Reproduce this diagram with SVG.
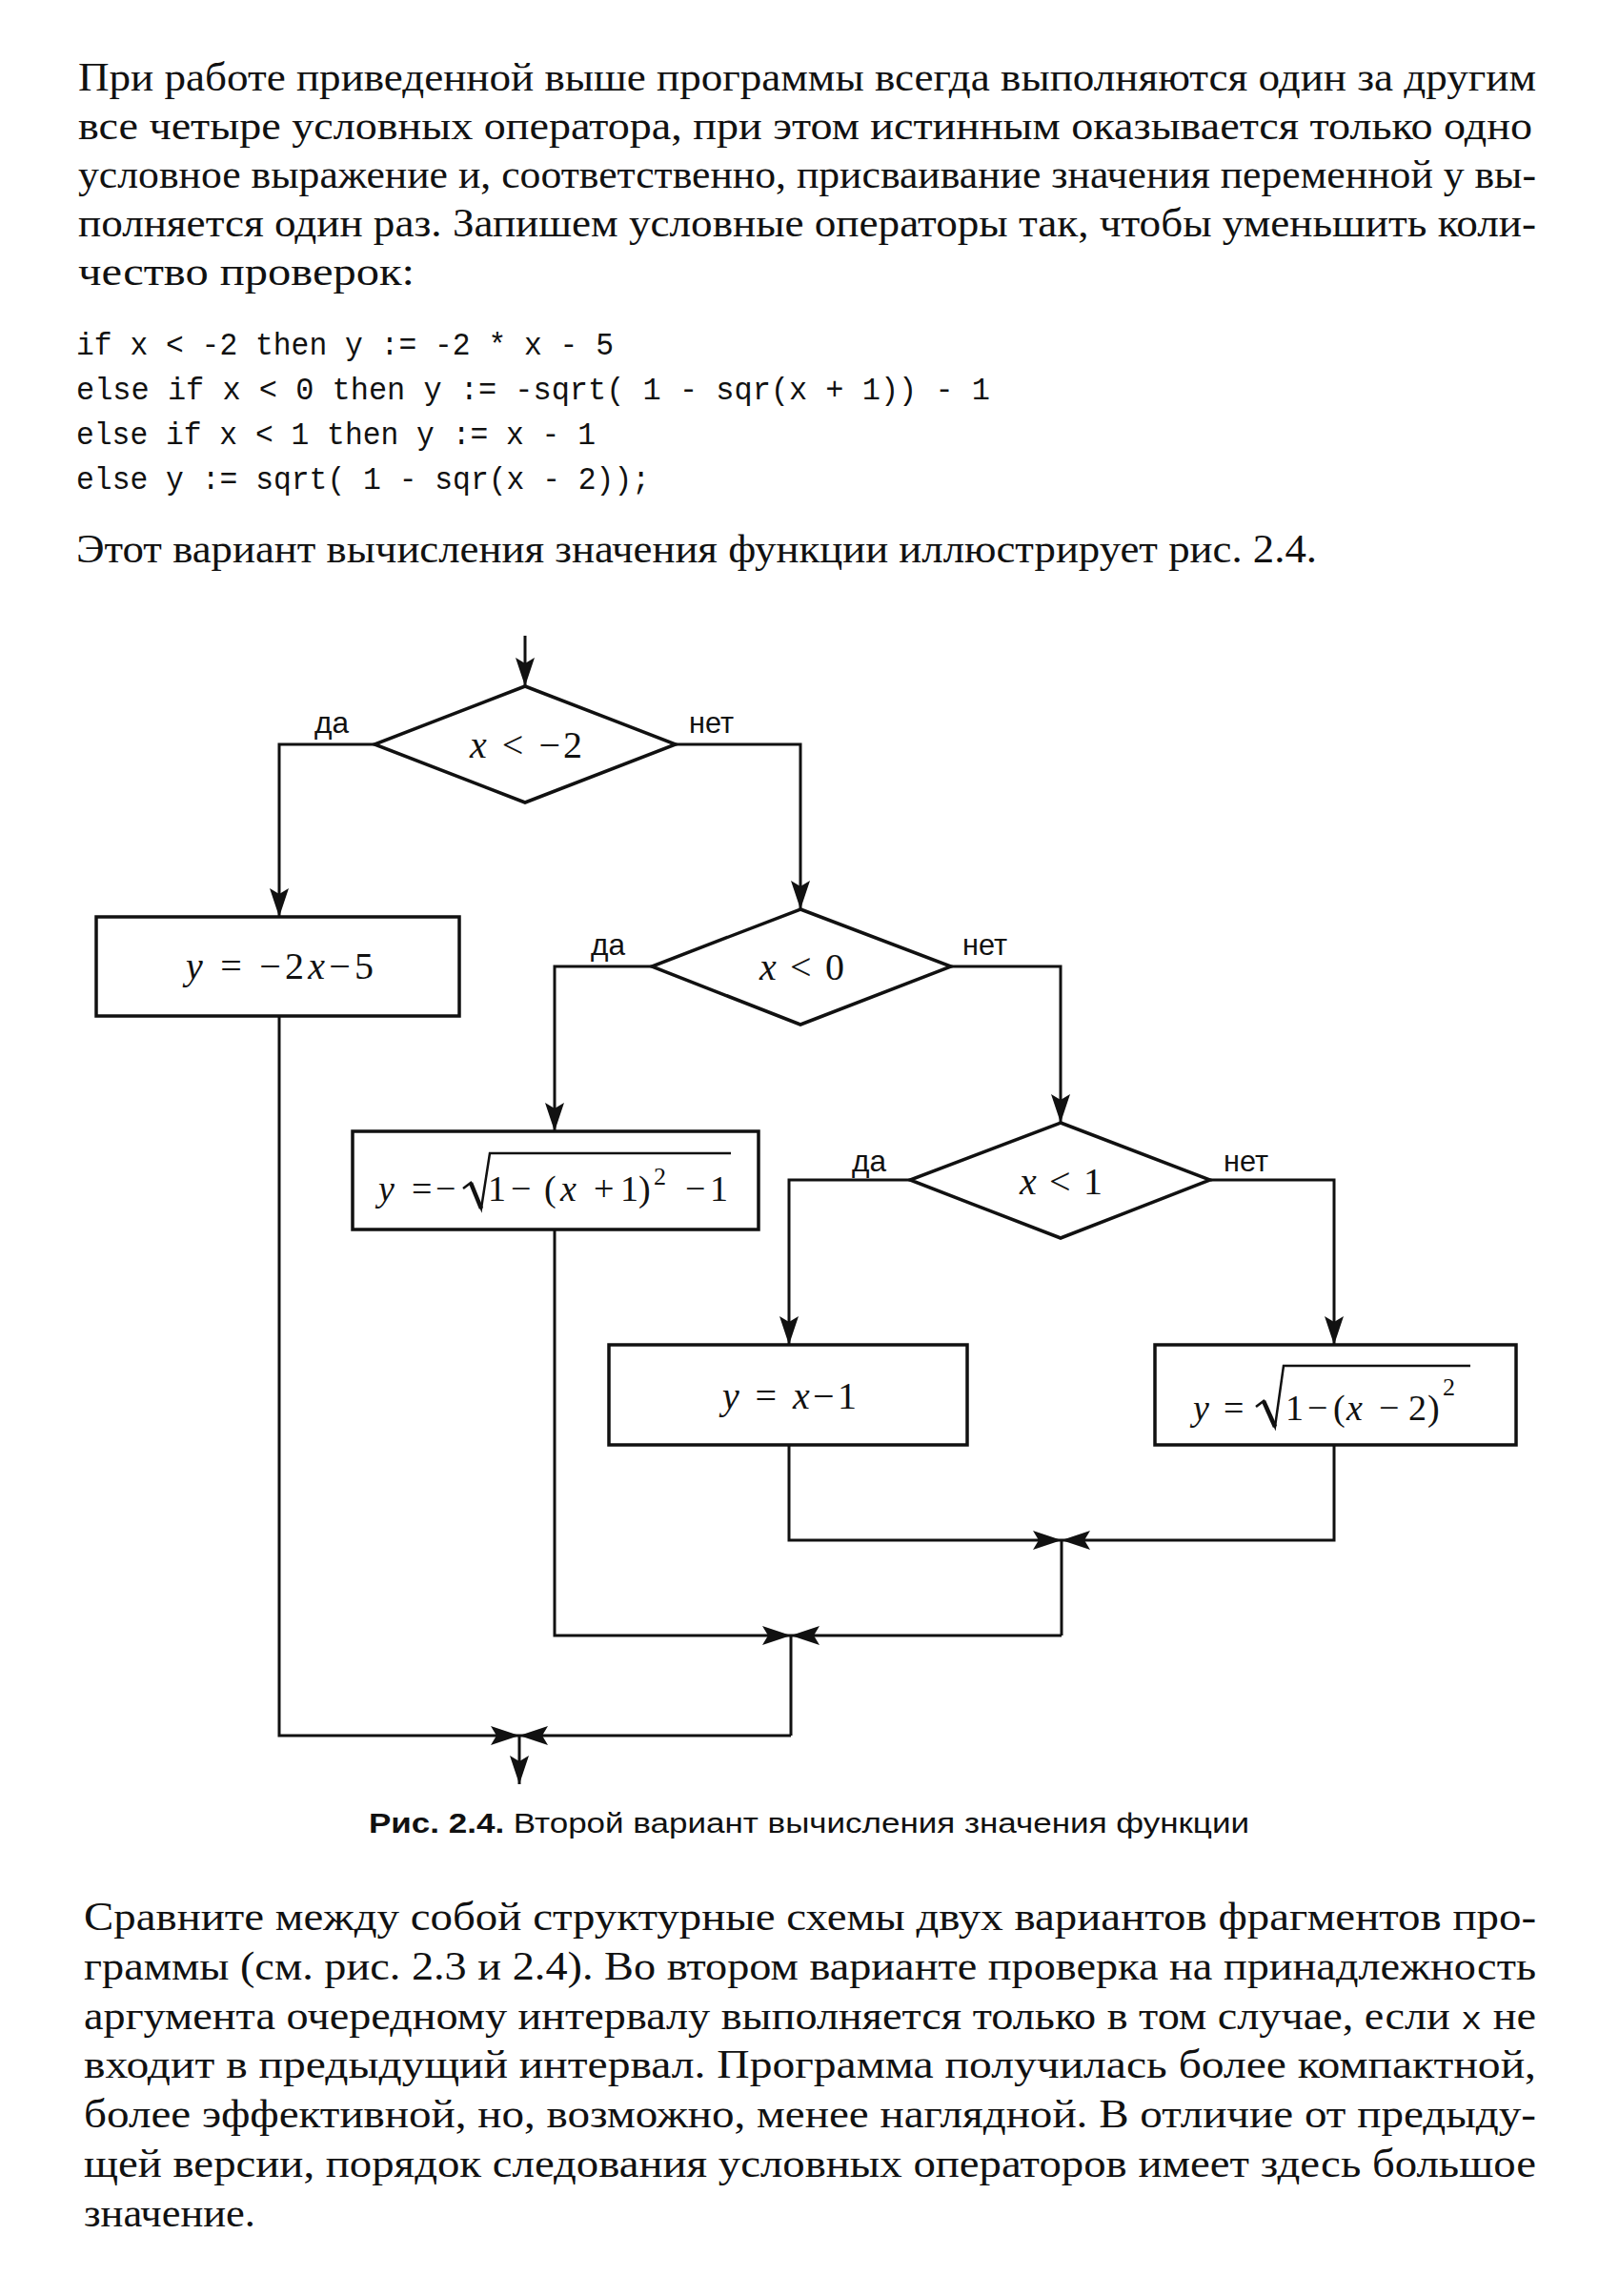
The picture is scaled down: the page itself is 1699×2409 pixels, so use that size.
<svg xmlns="http://www.w3.org/2000/svg" width="1699" height="2409" viewBox="0 0 1699 2409">
<style>
.body{font-family:"Liberation Serif",serif;font-size:42px;fill:#111}
.code{font-family:"Liberation Mono",monospace;font-size:33px;fill:#111}
.cm{font-family:"Liberation Mono",monospace;font-size:33px}
.lbl{font-family:"Liberation Sans",sans-serif;font-size:32px;fill:#111}
.cap{font-family:"Liberation Sans",sans-serif;font-size:30px;fill:#111}
.f{font-family:"Liberation Serif",serif;font-size:40px;fill:#111}
.f2{font-family:"Liberation Serif",serif;font-size:38px;fill:#111}
.sup{font-size:26px}
.i{font-style:italic}
.b{font-weight:bold}
.shape{fill:#fff;stroke:#111;stroke-width:3.5}
.conn{fill:none;stroke:#111;stroke-width:3}
.rad{fill:none;stroke:#111;stroke-width:2.5;stroke-linejoin:miter}
</style>
<defs>
<marker id="arr" viewBox="0 0 30 22" refX="30" refY="11" markerWidth="30" markerHeight="22" markerUnits="userSpaceOnUse" orient="auto">
<path d="M0,1 L30,11 L0,21 L6,11 Z" fill="#111"/>
</marker>
</defs>
<rect width="1699" height="2409" fill="#fff"/>

<g id="text-top">
<text class="body" x="82" y="95" textLength="1530" lengthAdjust="spacingAndGlyphs">При работе приведенной выше программы всегда выполняются один за другим</text>
<text class="body" x="82" y="146" textLength="1526" lengthAdjust="spacingAndGlyphs">все четыре условных оператора, при этом истинным оказывается только одно</text>
<text class="body" x="82" y="197" textLength="1530" lengthAdjust="spacingAndGlyphs">условное выражение и, соответственно, присваивание значения переменной у вы-</text>
<text class="body" x="82" y="248" textLength="1530" lengthAdjust="spacingAndGlyphs">полняется один раз. Запишем условные операторы так, чтобы уменьшить коли-</text>
<text class="body" x="82" y="299" textLength="353" lengthAdjust="spacingAndGlyphs">чество проверок:</text>
</g>

<g id="code">
<text class="code" x="80" y="372" textLength="564" lengthAdjust="spacingAndGlyphs" xml:space="preserve">if x &lt; -2 then y := -2 * x - 5</text>
<text class="code" x="80" y="419" textLength="959" lengthAdjust="spacingAndGlyphs" xml:space="preserve">else if x &lt; 0 then y := -sqrt( 1 - sqr(x + 1)) - 1</text>
<text class="code" x="80" y="466" textLength="545" lengthAdjust="spacingAndGlyphs" xml:space="preserve">else if x &lt; 1 then y := x - 1</text>
<text class="code" x="80" y="513" textLength="602" lengthAdjust="spacingAndGlyphs" xml:space="preserve">else y := sqrt( 1 - sqr(x - 2));</text>
</g>

<g id="text-mid">
<text class="body" x="80" y="590" textLength="1302" lengthAdjust="spacingAndGlyphs">Этот вариант вычисления значения функции иллюстрирует рис. 2.4.</text>
</g>

<g id="connectors">
<line class="conn" x1="551" y1="667" x2="551" y2="720" marker-end="url(#arr)"/>
<polyline class="conn" points="393,781 293,781 293,962" marker-end="url(#arr)"/>
<polyline class="conn" points="709,781 840,781 840,954" marker-end="url(#arr)"/>
<polyline class="conn" points="684,1014 582,1014 582,1187" marker-end="url(#arr)"/>
<polyline class="conn" points="998,1014 1113,1014 1113,1178" marker-end="url(#arr)"/>
<polyline class="conn" points="955,1238 828,1238 828,1411" marker-end="url(#arr)"/>
<polyline class="conn" points="1270,1238 1400,1238 1400,1411" marker-end="url(#arr)"/>
<polyline class="conn" points="828,1516 828,1616 1114,1616" marker-end="url(#arr)"/>
<polyline class="conn" points="1400,1516 1400,1616 1114,1616" marker-end="url(#arr)"/>
<line class="conn" x1="1114" y1="1616" x2="1114" y2="1716"/>
<polyline class="conn" points="582,1290 582,1716 830,1716" marker-end="url(#arr)"/>
<polyline class="conn" points="1114,1716 830,1716" marker-end="url(#arr)"/>
<line class="conn" x1="830" y1="1716" x2="830" y2="1821"/>
<polyline class="conn" points="293,1066 293,1821 545,1821" marker-end="url(#arr)"/>
<polyline class="conn" points="830,1821 545,1821" marker-end="url(#arr)"/>
<line class="conn" x1="545" y1="1821" x2="545" y2="1872" marker-end="url(#arr)"/>
</g>

<g id="labels">
<text class="lbl" x="330" y="769" textLength="36" lengthAdjust="spacingAndGlyphs">да</text>
<text class="lbl" x="723" y="769" textLength="47" lengthAdjust="spacingAndGlyphs">нет</text>
<text class="lbl" x="620" y="1002" textLength="36" lengthAdjust="spacingAndGlyphs">да</text>
<text class="lbl" x="1010" y="1002" textLength="47" lengthAdjust="spacingAndGlyphs">нет</text>
<text class="lbl" x="894" y="1229" textLength="36" lengthAdjust="spacingAndGlyphs">да</text>
<text class="lbl" x="1284" y="1229" textLength="47" lengthAdjust="spacingAndGlyphs">нет</text>
</g>

<g id="cond1">
<polygon class="shape" points="551,720 709,781 551,842 393,781"/>
<text class="f" x="493" y="795" textLength="118" lengthAdjust="spacing"><tspan class="i">x</tspan> &lt; −2</text>
</g>

<g id="box1">
<rect class="shape" x="101" y="962" width="381" height="104"/>
<text class="f" x="195" y="1027" textLength="197" lengthAdjust="spacing"><tspan class="i">y</tspan> = −2<tspan class="i">x</tspan>−5</text>
</g>

<g id="cond2">
<polygon class="shape" points="840,954 998,1014 840,1075 684,1014"/>
<text class="f" x="797" y="1028" textLength="89" lengthAdjust="spacing"><tspan class="i">x</tspan> &lt; 0</text>
</g>

<g id="box2">
<rect class="shape" x="370" y="1187" width="426" height="103"/>
<text class="f2" y="1260"><tspan class="i" x="397">y</tspan><tspan x="432">=</tspan><tspan x="457">−</tspan><tspan x="512">1</tspan><tspan x="536">−</tspan><tspan x="571">(</tspan><tspan class="i" x="588">x</tspan><tspan x="623">+</tspan><tspan x="651">1</tspan><tspan x="670">)</tspan><tspan x="719">−</tspan><tspan x="745">1</tspan></text>
<text class="f2 sup" x="686" y="1243">2</text>
<path class="rad" d="M486,1247 L494,1241 L505,1268 L514,1210 L767,1210"/>
<path d="M494,1241 L505,1268" stroke="#111" stroke-width="4.5" fill="none"/>
</g>

<g id="cond3">
<polygon class="shape" points="1113,1178 1270,1238 1113,1299 955,1238"/>
<text class="f" x="1070" y="1253" textLength="87" lengthAdjust="spacing"><tspan class="i">x</tspan> &lt; 1</text>
</g>

<g id="box3">
<rect class="shape" x="639" y="1411" width="376" height="105"/>
<text class="f" x="758" y="1478" textLength="141" lengthAdjust="spacing"><tspan class="i">y</tspan> = <tspan class="i">x</tspan>−1</text>
</g>

<g id="box4">
<rect class="shape" x="1212" y="1411" width="379" height="105"/>
<text class="f2" y="1490"><tspan class="i" x="1252">y</tspan><tspan x="1284">=</tspan><tspan x="1349">1</tspan><tspan x="1372">−</tspan><tspan x="1399">(</tspan><tspan class="i" x="1413">x</tspan><tspan x="1447">−</tspan><tspan x="1478">2</tspan><tspan x="1498">)</tspan></text>
<text class="f2 sup" x="1514" y="1464">2</text>
<path class="rad" d="M1318,1476 L1326,1470 L1338,1497 L1347,1433 L1543,1433"/>
<path d="M1326,1470 L1338,1497" stroke="#111" stroke-width="4.5" fill="none"/>
</g>

<g id="caption">
<text class="cap" x="387" y="1923" textLength="924" lengthAdjust="spacingAndGlyphs"><tspan class="b">Рис. 2.4.</tspan> Второй вариант вычисления значения функции</text>
</g>

<g id="text-bottom">
<text class="body" x="88" y="2025" textLength="1524" lengthAdjust="spacingAndGlyphs">Сравните между собой структурные схемы двух вариантов фрагментов про-</text>
<text class="body" x="88" y="2077" textLength="1524" lengthAdjust="spacingAndGlyphs">граммы (см. рис. 2.3 и 2.4). Во втором варианте проверка на принадлежность</text>
<text class="body" x="88" y="2129" textLength="1524" lengthAdjust="spacingAndGlyphs">аргумента очередному интервалу выполняется только в том случае, если <tspan class="cm">x</tspan> не</text>
<text class="body" x="88" y="2180" textLength="1524" lengthAdjust="spacingAndGlyphs">входит в предыдущий интервал. Программа получилась более компактной,</text>
<text class="body" x="88" y="2232" textLength="1524" lengthAdjust="spacingAndGlyphs">более эффективной, но, возможно, менее наглядной. В отличие от предыду-</text>
<text class="body" x="88" y="2284" textLength="1524" lengthAdjust="spacingAndGlyphs">щей версии, порядок следования условных операторов имеет здесь большое</text>
<text class="body" x="88" y="2336" textLength="180" lengthAdjust="spacingAndGlyphs">значение.</text>
</g>
</svg>
